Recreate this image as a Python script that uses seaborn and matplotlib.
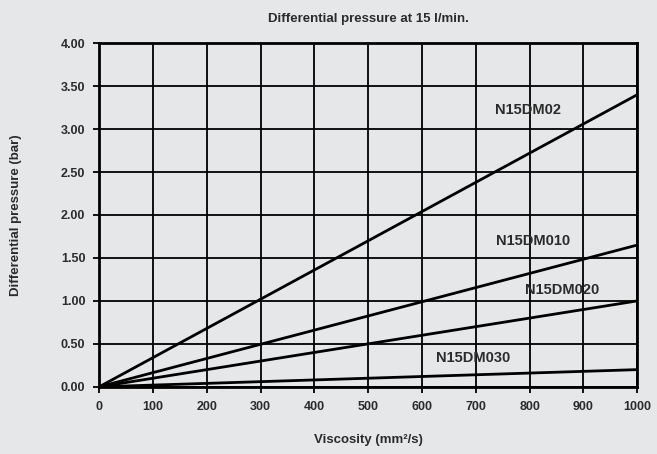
import matplotlib
matplotlib.use("Agg")
import matplotlib.pyplot as plt
import seaborn as sns
import pandas as pd

# data
viscosity = [0, 1000]
n15dm02 = [0, 3.40]
n15dm010 = [0, 1.65]
n15dm020 = [0, 1.00]
n15dm030 = [0, 0.20]
series_names = ["N15DM02", "N15DM010", "N15DM020", "N15DM030"]
label_pos = [(797, 3.22), (807, 1.70), (861, 1.13), (695, 0.34)]

bg = "#e6e7e9"
txt = "#2b2b2b"

sns.set_theme(style="white")
plt.rcParams["font.family"] = ["Liberation Sans", "DejaVu Sans"]
plt.rcParams["font.weight"] = "bold"

df = pd.DataFrame({
    "x": viscosity * 4,
    "y": n15dm02 + n15dm010 + n15dm020 + n15dm030,
    "s": [n for n in series_names for _ in viscosity],
})

fig, ax = plt.subplots(figsize=(6.57, 4.54), dpi=100)
fig.patch.set_facecolor(bg)
ax.set_facecolor(bg)
fig.subplots_adjust(left=0.151, right=0.970, top=0.905, bottom=0.148)

sns.lineplot(data=df, x="x", y="y", units="s", estimator=None, color="black",
             linewidth=2, ax=ax, legend=False)

for name, (lx, ly) in zip(series_names, label_pos):
    ax.text(lx, ly, name, ha="center", va="center", fontsize=10.5,
            fontweight="bold", color=txt)

ax.set_xlim(0, 1000)
ax.set_ylim(0, 4)
ax.set_xticks(range(0, 1001, 100))
ax.set_yticks([i * 0.5 for i in range(9)])
ax.set_yticklabels([f"{i * 0.5:.2f}" for i in range(9)])
ax.grid(True, color="black", linewidth=1.3)
ax.set_axisbelow(False)
for sp in ax.spines.values():
    sp.set_color("black")
    sp.set_linewidth(2)
ax.tick_params(axis="both", direction="out", length=4, width=1.3, color="black",
               labelsize=9, labelcolor=txt, bottom=True, left=True, pad=6)
for lab in ax.get_xticklabels() + ax.get_yticklabels():
    lab.set_fontweight("bold")

ax.set_title("Differential pressure at 15 l/min.", fontsize=9.5, fontweight="bold",
             color=txt, pad=15)
ax.set_xlabel("Viscosity (mm²/s)", fontsize=9.5, fontweight="bold", color=txt, labelpad=15)
ax.set_ylabel("Differential pressure (bar)", fontsize=9.5, fontweight="bold", color=txt,
              labelpad=28)

fig.savefig("out.png", dpi=100, facecolor=bg)
